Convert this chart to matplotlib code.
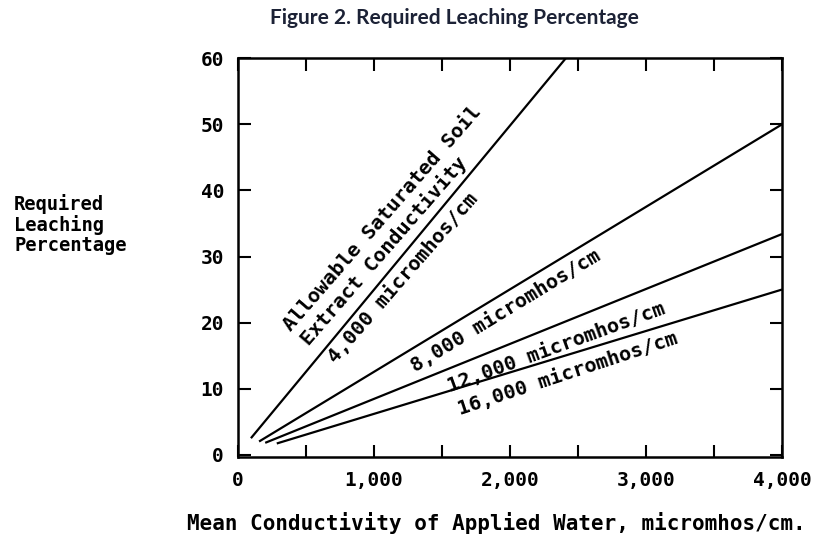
import matplotlib
matplotlib.use('Agg')
import matplotlib.pyplot as plt

# Curves: start and end point of each line
x_4000 = [95, 2410]
y_4000 = [2.5, 60]
x_8000 = [155, 4000]
y_8000 = [2.0, 50]
x_12000 = [200, 4000]
y_12000 = [1.8, 33.4]
x_16000 = [285, 4000]
y_16000 = [1.7, 25]

x_ticks = [0, 1000, 2000, 3000, 4000]
x_tick_labels = ['0', '1,000', '2,000', '3,000', '4,000']
x_minor = [500, 1500, 2500, 3500]
y_ticks = [0, 10, 20, 30, 40, 50, 60]

mono = 'DejaVu Sans Mono'
fig = plt.figure(figsize=(8.4, 5.4), dpi=100)
ax = fig.add_axes([238 / 840, 1 - 456.7 / 540, 544 / 840, 398.4 / 540])

for xs, ys in [(x_4000, y_4000), (x_8000, y_8000), (x_12000, y_12000), (x_16000, y_16000)]:
    ax.plot(xs, ys, color='black', lw=1.6, solid_capstyle='butt')

ax.set_xlim(0, 4000)
ax.set_ylim(-0.3, 60)
ax.set_xticks(x_ticks)
ax.set_xticklabels(x_tick_labels, family=mono, fontsize=14, weight='bold')
ax.set_xticks(x_minor, minor=True)
ax.set_yticks(y_ticks)
ax.set_yticklabels([str(v) for v in y_ticks], family=mono, fontsize=14, weight='bold')
ax.tick_params(which='both', direction='in', top=True, right=True,
               length=9, width=1.5, color='black')
ax.tick_params(axis='x', which='major', pad=10)
ax.tick_params(axis='y', which='major', pad=10)
for s in ax.spines.values():
    s.set_linewidth(1.8)

# labels along the lines
txt = dict(family=mono, fontsize=14.5, weight='bold', ha='center', va='center',
           rotation_mode='anchor')
ax.text(1059, 35.8, 'Allowable Saturated Soil', rotation=49, **txt)
ax.text(1074, 30.8, 'Extract Conductivity', rotation=49, **txt)
ax.text(1213, 26.7, '4,000 micromhos/cm', rotation=49, **txt)
ax.text(1971, 21.8, '8,000 micromhos/cm', rotation=31.3, **txt)
ax.text(2338, 16.2, '12,000 micromhos/cm', rotation=20, **txt)
ax.text(2426, 12.3, '16,000 micromhos/cm', rotation=18.2, **txt)

fig.text(454 / 840, 1 - 18 / 540, 'Figure 2. Required Leaching Percentage',
         family='Lato', weight='bold', fontsize=15, color='#1c2236',
         ha='center', va='center')
fig.text(14 / 840, 1 - 194 / 540, 'Required\nLeaching\nPercentage',
         family=mono, fontsize=13.5, weight='bold', ha='left', va='top',
         linespacing=1.05)
fig.text(496 / 840, 1 - 523 / 540, 'Mean Conductivity of Applied Water, micromhos/cm.',
         family=mono, fontsize=15, weight='bold', ha='center', va='center')

fig.savefig('out.png', dpi=100)
